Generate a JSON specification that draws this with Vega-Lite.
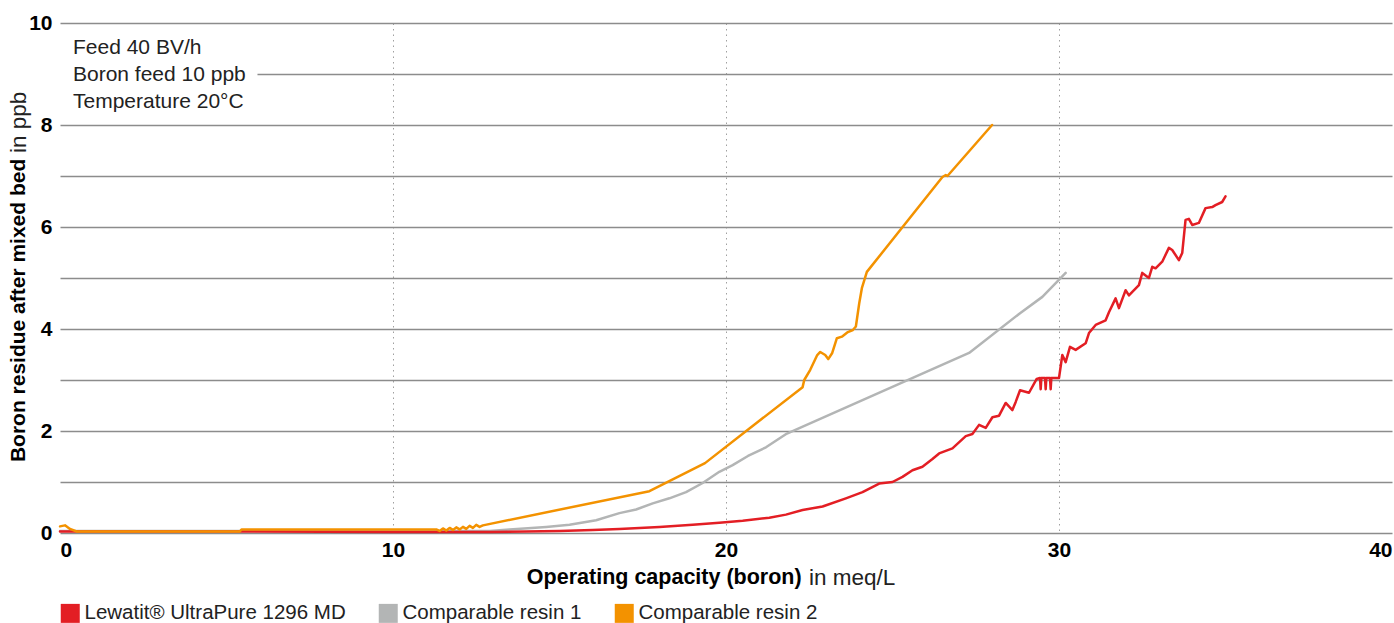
{
  "$schema": "https://vega.github.io/schema/vega-lite/v6.json",
  "width": 1332,
  "height": 510,
  "autosize": "none",
  "padding": {"left": 60, "top": 23, "right": 2, "bottom": 90},
  "background": "white",
  "config": {"view": {"stroke": null}, "font": "Liberation Sans"},
  "datasets": {
    "curves": [
      {"resin": "Comparable resin 1", "capacity": 0, "boron": 0.04},
      {"resin": "Comparable resin 1", "capacity": 5.4, "boron": 0.04},
      {"resin": "Comparable resin 1", "capacity": 12.9, "boron": 0.04},
      {"resin": "Comparable resin 1", "capacity": 13.5, "boron": 0.07},
      {"resin": "Comparable resin 1", "capacity": 14.6, "boron": 0.12},
      {"resin": "Comparable resin 1", "capacity": 15.3, "boron": 0.16},
      {"resin": "Comparable resin 1", "capacity": 16.1, "boron": 0.25},
      {"resin": "Comparable resin 1", "capacity": 16.8, "boron": 0.39},
      {"resin": "Comparable resin 1", "capacity": 17.3, "boron": 0.46},
      {"resin": "Comparable resin 1", "capacity": 17.8, "boron": 0.58},
      {"resin": "Comparable resin 1", "capacity": 18.3, "boron": 0.68},
      {"resin": "Comparable resin 1", "capacity": 18.8, "boron": 0.8},
      {"resin": "Comparable resin 1", "capacity": 19.3, "boron": 0.98},
      {"resin": "Comparable resin 1", "capacity": 19.8, "boron": 1.2},
      {"resin": "Comparable resin 1", "capacity": 20.2, "boron": 1.33},
      {"resin": "Comparable resin 1", "capacity": 20.66, "boron": 1.51},
      {"resin": "Comparable resin 1", "capacity": 21.2, "boron": 1.68},
      {"resin": "Comparable resin 1", "capacity": 21.83, "boron": 1.95},
      {"resin": "Comparable resin 1", "capacity": 27.3, "boron": 3.53},
      {"resin": "Comparable resin 1", "capacity": 28.83, "boron": 4.31},
      {"resin": "Comparable resin 1", "capacity": 29.5, "boron": 4.63},
      {"resin": "Comparable resin 1", "capacity": 30.2, "boron": 5.1},

      {"resin": "Lewatit® UltraPure 1296 MD", "capacity": 0, "boron": 0.03},
      {"resin": "Lewatit® UltraPure 1296 MD", "capacity": 5, "boron": 0.03},
      {"resin": "Lewatit® UltraPure 1296 MD", "capacity": 10, "boron": 0.02},
      {"resin": "Lewatit® UltraPure 1296 MD", "capacity": 12.9, "boron": 0.02},
      {"resin": "Lewatit® UltraPure 1296 MD", "capacity": 14, "boron": 0.03},
      {"resin": "Lewatit® UltraPure 1296 MD", "capacity": 15, "boron": 0.04},
      {"resin": "Lewatit® UltraPure 1296 MD", "capacity": 16, "boron": 0.06},
      {"resin": "Lewatit® UltraPure 1296 MD", "capacity": 16.8, "boron": 0.08},
      {"resin": "Lewatit® UltraPure 1296 MD", "capacity": 18, "boron": 0.12},
      {"resin": "Lewatit® UltraPure 1296 MD", "capacity": 19, "boron": 0.16},
      {"resin": "Lewatit® UltraPure 1296 MD", "capacity": 19.8, "boron": 0.2},
      {"resin": "Lewatit® UltraPure 1296 MD", "capacity": 20.5, "boron": 0.24},
      {"resin": "Lewatit® UltraPure 1296 MD", "capacity": 21.3, "boron": 0.3},
      {"resin": "Lewatit® UltraPure 1296 MD", "capacity": 21.8, "boron": 0.36},
      {"resin": "Lewatit® UltraPure 1296 MD", "capacity": 22.3, "boron": 0.45},
      {"resin": "Lewatit® UltraPure 1296 MD", "capacity": 22.9, "boron": 0.52},
      {"resin": "Lewatit® UltraPure 1296 MD", "capacity": 23.6, "boron": 0.68},
      {"resin": "Lewatit® UltraPure 1296 MD", "capacity": 24.1, "boron": 0.8},
      {"resin": "Lewatit® UltraPure 1296 MD", "capacity": 24.6, "boron": 0.97},
      {"resin": "Lewatit® UltraPure 1296 MD", "capacity": 25.0, "boron": 1.0},
      {"resin": "Lewatit® UltraPure 1296 MD", "capacity": 25.3, "boron": 1.1},
      {"resin": "Lewatit® UltraPure 1296 MD", "capacity": 25.6, "boron": 1.23},
      {"resin": "Lewatit® UltraPure 1296 MD", "capacity": 25.9, "boron": 1.3},
      {"resin": "Lewatit® UltraPure 1296 MD", "capacity": 26.2, "boron": 1.45},
      {"resin": "Lewatit® UltraPure 1296 MD", "capacity": 26.4, "boron": 1.56},
      {"resin": "Lewatit® UltraPure 1296 MD", "capacity": 26.8, "boron": 1.66},
      {"resin": "Lewatit® UltraPure 1296 MD", "capacity": 27.2, "boron": 1.9},
      {"resin": "Lewatit® UltraPure 1296 MD", "capacity": 27.4, "boron": 1.94},
      {"resin": "Lewatit® UltraPure 1296 MD", "capacity": 27.6, "boron": 2.12},
      {"resin": "Lewatit® UltraPure 1296 MD", "capacity": 27.8, "boron": 2.06},
      {"resin": "Lewatit® UltraPure 1296 MD", "capacity": 28.0, "boron": 2.27},
      {"resin": "Lewatit® UltraPure 1296 MD", "capacity": 28.2, "boron": 2.3},
      {"resin": "Lewatit® UltraPure 1296 MD", "capacity": 28.4, "boron": 2.55},
      {"resin": "Lewatit® UltraPure 1296 MD", "capacity": 28.6, "boron": 2.41},
      {"resin": "Lewatit® UltraPure 1296 MD", "capacity": 28.7, "boron": 2.57},
      {"resin": "Lewatit® UltraPure 1296 MD", "capacity": 28.83, "boron": 2.8},
      {"resin": "Lewatit® UltraPure 1296 MD", "capacity": 29.1, "boron": 2.75},
      {"resin": "Lewatit® UltraPure 1296 MD", "capacity": 29.33, "boron": 3.02},
      {"resin": "Lewatit® UltraPure 1296 MD", "capacity": 29.43, "boron": 3.04},
      {"resin": "Lewatit® UltraPure 1296 MD", "capacity": 29.45, "boron": 2.82},
      {"resin": "Lewatit® UltraPure 1296 MD", "capacity": 29.47, "boron": 3.04},
      {"resin": "Lewatit® UltraPure 1296 MD", "capacity": 29.58, "boron": 3.04},
      {"resin": "Lewatit® UltraPure 1296 MD", "capacity": 29.6, "boron": 2.82},
      {"resin": "Lewatit® UltraPure 1296 MD", "capacity": 29.62, "boron": 3.04},
      {"resin": "Lewatit® UltraPure 1296 MD", "capacity": 29.73, "boron": 3.04},
      {"resin": "Lewatit® UltraPure 1296 MD", "capacity": 29.75, "boron": 2.82},
      {"resin": "Lewatit® UltraPure 1296 MD", "capacity": 29.77, "boron": 3.04},
      {"resin": "Lewatit® UltraPure 1296 MD", "capacity": 30.0, "boron": 3.04},
      {"resin": "Lewatit® UltraPure 1296 MD", "capacity": 30.1, "boron": 3.49},
      {"resin": "Lewatit® UltraPure 1296 MD", "capacity": 30.2, "boron": 3.35},
      {"resin": "Lewatit® UltraPure 1296 MD", "capacity": 30.33, "boron": 3.65},
      {"resin": "Lewatit® UltraPure 1296 MD", "capacity": 30.5, "boron": 3.59},
      {"resin": "Lewatit® UltraPure 1296 MD", "capacity": 30.8, "boron": 3.72},
      {"resin": "Lewatit® UltraPure 1296 MD", "capacity": 30.9, "boron": 3.92},
      {"resin": "Lewatit® UltraPure 1296 MD", "capacity": 31.1, "boron": 4.08},
      {"resin": "Lewatit® UltraPure 1296 MD", "capacity": 31.4, "boron": 4.17},
      {"resin": "Lewatit® UltraPure 1296 MD", "capacity": 31.5, "boron": 4.33},
      {"resin": "Lewatit® UltraPure 1296 MD", "capacity": 31.7, "boron": 4.6},
      {"resin": "Lewatit® UltraPure 1296 MD", "capacity": 31.8, "boron": 4.41},
      {"resin": "Lewatit® UltraPure 1296 MD", "capacity": 32.0, "boron": 4.76},
      {"resin": "Lewatit® UltraPure 1296 MD", "capacity": 32.1, "boron": 4.66},
      {"resin": "Lewatit® UltraPure 1296 MD", "capacity": 32.4, "boron": 4.86},
      {"resin": "Lewatit® UltraPure 1296 MD", "capacity": 32.5, "boron": 5.1},
      {"resin": "Lewatit® UltraPure 1296 MD", "capacity": 32.7, "boron": 5.0},
      {"resin": "Lewatit® UltraPure 1296 MD", "capacity": 32.8, "boron": 5.22},
      {"resin": "Lewatit® UltraPure 1296 MD", "capacity": 32.9, "boron": 5.19},
      {"resin": "Lewatit® UltraPure 1296 MD", "capacity": 33.1, "boron": 5.32},
      {"resin": "Lewatit® UltraPure 1296 MD", "capacity": 33.3, "boron": 5.59},
      {"resin": "Lewatit® UltraPure 1296 MD", "capacity": 33.4, "boron": 5.55},
      {"resin": "Lewatit® UltraPure 1296 MD", "capacity": 33.6, "boron": 5.35},
      {"resin": "Lewatit® UltraPure 1296 MD", "capacity": 33.7, "boron": 5.49},
      {"resin": "Lewatit® UltraPure 1296 MD", "capacity": 33.8, "boron": 6.14},
      {"resin": "Lewatit® UltraPure 1296 MD", "capacity": 33.9, "boron": 6.16},
      {"resin": "Lewatit® UltraPure 1296 MD", "capacity": 34.0, "boron": 6.04},
      {"resin": "Lewatit® UltraPure 1296 MD", "capacity": 34.2, "boron": 6.08},
      {"resin": "Lewatit® UltraPure 1296 MD", "capacity": 34.4, "boron": 6.37},
      {"resin": "Lewatit® UltraPure 1296 MD", "capacity": 34.6, "boron": 6.39},
      {"resin": "Lewatit® UltraPure 1296 MD", "capacity": 34.7, "boron": 6.43},
      {"resin": "Lewatit® UltraPure 1296 MD", "capacity": 34.9, "boron": 6.49},
      {"resin": "Lewatit® UltraPure 1296 MD", "capacity": 35.0, "boron": 6.6},

      {"resin": "Comparable resin 2", "capacity": 0, "boron": 0.13},
      {"resin": "Comparable resin 2", "capacity": 0.15, "boron": 0.15},
      {"resin": "Comparable resin 2", "capacity": 0.3, "boron": 0.08},
      {"resin": "Comparable resin 2", "capacity": 0.5, "boron": 0.03},
      {"resin": "Comparable resin 2", "capacity": 5.4, "boron": 0.03},
      {"resin": "Comparable resin 2", "capacity": 5.45, "boron": 0.07},
      {"resin": "Comparable resin 2", "capacity": 11.3, "boron": 0.07},
      {"resin": "Comparable resin 2", "capacity": 11.4, "boron": 0.04},
      {"resin": "Comparable resin 2", "capacity": 11.5, "boron": 0.09},
      {"resin": "Comparable resin 2", "capacity": 11.6, "boron": 0.05},
      {"resin": "Comparable resin 2", "capacity": 11.7, "boron": 0.1},
      {"resin": "Comparable resin 2", "capacity": 11.8, "boron": 0.06},
      {"resin": "Comparable resin 2", "capacity": 11.9, "boron": 0.11},
      {"resin": "Comparable resin 2", "capacity": 12.0, "boron": 0.07},
      {"resin": "Comparable resin 2", "capacity": 12.1, "boron": 0.12},
      {"resin": "Comparable resin 2", "capacity": 12.2, "boron": 0.08},
      {"resin": "Comparable resin 2", "capacity": 12.3, "boron": 0.14},
      {"resin": "Comparable resin 2", "capacity": 12.4, "boron": 0.1},
      {"resin": "Comparable resin 2", "capacity": 12.5, "boron": 0.16},
      {"resin": "Comparable resin 2", "capacity": 12.6, "boron": 0.12},
      {"resin": "Comparable resin 2", "capacity": 12.7, "boron": 0.15},
      {"resin": "Comparable resin 2", "capacity": 17.7, "boron": 0.82},
      {"resin": "Comparable resin 2", "capacity": 19.37, "boron": 1.37},
      {"resin": "Comparable resin 2", "capacity": 22.3, "boron": 2.86},
      {"resin": "Comparable resin 2", "capacity": 22.35, "boron": 3.0},
      {"resin": "Comparable resin 2", "capacity": 22.53, "boron": 3.2},
      {"resin": "Comparable resin 2", "capacity": 22.74, "boron": 3.49},
      {"resin": "Comparable resin 2", "capacity": 22.83, "boron": 3.55},
      {"resin": "Comparable resin 2", "capacity": 22.98, "boron": 3.49},
      {"resin": "Comparable resin 2", "capacity": 23.07, "boron": 3.41},
      {"resin": "Comparable resin 2", "capacity": 23.19, "boron": 3.53},
      {"resin": "Comparable resin 2", "capacity": 23.33, "boron": 3.82},
      {"resin": "Comparable resin 2", "capacity": 23.48, "boron": 3.85},
      {"resin": "Comparable resin 2", "capacity": 23.66, "boron": 3.94},
      {"resin": "Comparable resin 2", "capacity": 23.81, "boron": 3.98},
      {"resin": "Comparable resin 2", "capacity": 23.9, "boron": 4.05},
      {"resin": "Comparable resin 2", "capacity": 24.0, "boron": 4.5},
      {"resin": "Comparable resin 2", "capacity": 24.08, "boron": 4.8},
      {"resin": "Comparable resin 2", "capacity": 24.23, "boron": 5.12},
      {"resin": "Comparable resin 2", "capacity": 26.5, "boron": 6.98},
      {"resin": "Comparable resin 2", "capacity": 26.6, "boron": 7.02},
      {"resin": "Comparable resin 2", "capacity": 26.65, "boron": 7.0},
      {"resin": "Comparable resin 2", "capacity": 27.99, "boron": 8.0}
    ],
    "notes": [
      {"line": "Feed 40 BV/h", "capacity": 0.39, "boron": 9.51},
      {"line": "Boron feed 10 ppb", "capacity": 0.39, "boron": 8.98},
      {"line": "Temperature 20°C", "capacity": 0.39, "boron": 8.45}
    ],
    "box": [
      {"x0": 0, "x1": 5.93, "y0": 8.3, "y1": 9.7}
    ]
  },
  "layer": [
    {
      "data": {"name": "curves"},
      "mark": {"type": "line", "strokeWidth": 2.5, "strokeJoin": "round", "strokeCap": "round"},
      "encoding": {
        "x": {
          "field": "capacity", "type": "quantitative",
          "scale": {"domain": [0, 40], "nice": false, "zero": false},
          "axis": {
            "values": [0, 10, 20, 30, 40],
            "title": null,
            "grid": true,
            "gridDash": [1.5, 4],
            "gridColor": "#a0a0a0",
            "gridWidth": 1,
            "gridOpacity": {"condition": {"test": "datum.value == 0 || datum.value == 40", "value": 0}, "value": 1},
            "domain": false,
            "ticks": false,
            "labelFont": "Liberation Sans",
            "labelFontWeight": "bold",
            "labelFontSize": 21,
            "labelColor": "#000000",
            "labelPadding": 6,
            "labelFlush": true
          }
        },
        "y": {
          "field": "boron", "type": "quantitative",
          "scale": {"domain": [0, 10], "nice": false, "zero": false},
          "axis": {
            "values": [0, 1, 2, 3, 4, 5, 6, 7, 8, 9, 10],
            "title": null,
            "grid": true,
            "gridColor": "#8c8c8c",
            "gridWidth": 1.3,
            "domain": false,
            "ticks": false,
            "labelExpr": "datum.value % 2 == 0 ? datum.label : ''",
            "labelFont": "Liberation Sans",
            "labelFontWeight": "bold",
            "labelFontSize": 21,
            "labelColor": "#000000",
            "labelPadding": 8
          }
        },
        "color": {
          "field": "resin", "type": "nominal",
          "scale": {
            "domain": ["Lewatit® UltraPure 1296 MD", "Comparable resin 1", "Comparable resin 2"],
            "range": ["#E31E24", "#B3B5B5", "#F39200"]
          },
          "legend": {
            "title": null,
            "orient": "none",
            "legendX": 0,
            "legendY": 580,
            "direction": "horizontal",
            "padding": 0,
            "symbolType": "square",
            "symbolSize": 361,
            "symbolStrokeWidth": 0,
            "labelFont": "Liberation Sans",
            "labelFontSize": 20.5,
            "labelLimit": 500,
            "labelColor": "#222222",
            "labelOffset": 4,
            "columnPadding": 32,
            "encode": {"symbols": {"update": {"fill": {"scale": "color", "field": "value"}, "fillOpacity": {"value": 1}}}}
          }
        },
        "order": {"field": "capacity", "type": "quantitative"}
      }
    },
    {
      "data": {"name": "box"},
      "mark": {"type": "rect", "fill": "white"},
      "encoding": {
        "x": {"field": "x0", "type": "quantitative", "title": null},
        "x2": {"field": "x1"},
        "y": {"field": "y0", "type": "quantitative", "title": null},
        "y2": {"field": "y1"}
      }
    },
    {
      "data": {"name": "notes"},
      "mark": {"type": "text", "align": "left", "baseline": "middle", "fontSize": 21, "font": "Liberation Sans", "color": "#222222"},
      "encoding": {
        "x": {"field": "capacity", "type": "quantitative", "title": null},
        "y": {"field": "boron", "type": "quantitative", "title": null},
        "text": {"field": "line"}
      }
    },
    {
      "data": {"values": [{}]},
      "mark": {"type": "text", "align": "left", "baseline": "middle", "fontSize": 21.5, "font": "Liberation Sans", "fontWeight": "bold", "color": "#000000", "text": "Operating capacity (boron)"},
      "encoding": {
        "x": {"datum": 14.02, "type": "quantitative", "title": null},
        "y": {"datum": -0.88, "type": "quantitative", "title": null}
      }
    },
    {
      "data": {"values": [{}]},
      "mark": {"type": "text", "align": "left", "baseline": "middle", "fontSize": 22.5, "font": "Liberation Sans", "color": "#222222", "text": "in meq/L"},
      "encoding": {
        "x": {"datum": 22.49, "type": "quantitative", "title": null},
        "y": {"datum": -0.88, "type": "quantitative", "title": null}
      }
    },
    {
      "data": {"values": [{}]},
      "mark": {"type": "text", "align": "left", "baseline": "middle", "angle": 270, "fontSize": 21, "font": "Liberation Sans", "fontWeight": "bold", "color": "#000000", "text": "Boron residue after mixed bed"},
      "encoding": {
        "x": {"datum": -1.23, "type": "quantitative", "title": null},
        "y": {"datum": 1.39, "type": "quantitative", "title": null}
      }
    },
    {
      "data": {"values": [{}]},
      "mark": {"type": "text", "align": "left", "baseline": "middle", "angle": 270, "fontSize": 22.5, "font": "Liberation Sans", "color": "#222222", "text": "in ppb"},
      "encoding": {
        "x": {"datum": -1.23, "type": "quantitative", "title": null},
        "y": {"datum": 7.45, "type": "quantitative", "title": null}
      }
    }
  ]
}
